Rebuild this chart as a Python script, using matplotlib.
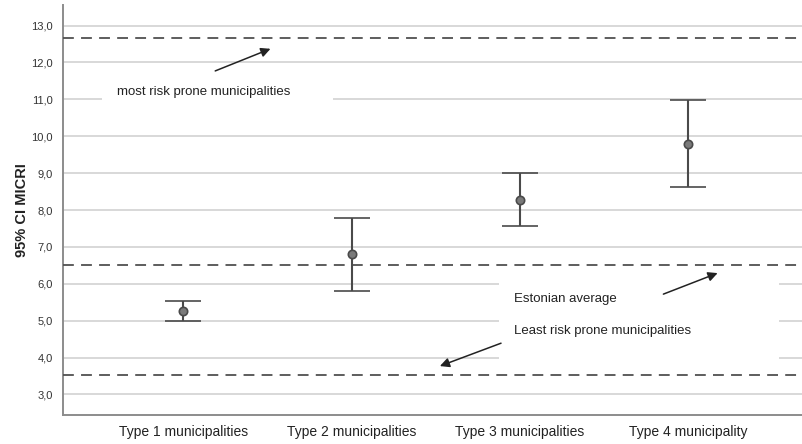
import matplotlib
matplotlib.use('agg')
import matplotlib.pyplot as plt
import matplotlib.patches as patches
import numpy as np

plt.rcParams['font.family'] = ['Liberation Sans', 'DejaVu Sans']

# values
categories = ['Type 1 municipalities', 'Type 2 municipalities',
              'Type 3 municipalities', 'Type 4 municipality']
means = [5.26, 6.80, 8.27, 9.79]
ci_low = [5.00, 5.81, 7.58, 8.62]
ci_high = [5.53, 7.78, 9.00, 10.97]

ref_lines = [12.66, 6.50, 3.54]  # most risk prone, Estonian average, least risk prone
yticks = np.arange(3, 14)

DARK = '#4a4a4a'
GRID = '#d6d6d6'


def main():
    fig = plt.figure(figsize=(8.03, 4.44), dpi=100, facecolor='white')
    ax = fig.add_axes([0.078, 0.065, 0.922, 0.924])

    x = np.arange(len(categories))
    m = np.array(means)
    yerr = [m - np.array(ci_low), np.array(ci_high) - m]

    ax.errorbar(x, m, yerr=yerr, fmt='o', color=DARK, ecolor=DARK,
                elinewidth=1.5, capsize=13, capthick=1.6,
                markersize=6, markerfacecolor='#7a7a7a',
                markeredgecolor=DARK, markeredgewidth=1.2, zorder=5)

    for v in ref_lines:
        ax.axhline(v, color='#505050', lw=1.3, ls=(0, (6, 4)), zorder=4)

    ax.set_xlim(-0.716, 3.68)
    ax.set_ylim(2.44, 13.56)
    ax.set_xticks(x)
    ax.set_xticklabels(categories, fontsize=10, color='#222222')
    ax.set_yticks(yticks)
    ax.set_yticklabels(['{:.1f}'.format(v).replace('.', ',') for v in yticks],
                       fontsize=8, color='#333333')
    ax.tick_params(length=0, pad=7)
    ax.tick_params(axis='x', pad=7)

    ax.set_axisbelow(True)
    ax.yaxis.grid(True, color=GRID, lw=1.3)
    ax.xaxis.grid(False)

    for s in ['top', 'right']:
        ax.spines[s].set_visible(False)
    for s in ['left', 'bottom']:
        ax.spines[s].set_color('#8c8c8c')
        ax.spines[s].set_linewidth(1.4)

    ax.set_ylabel('95% CI MICRI', fontsize=10.5, fontweight='bold',
                  color='#222222', labelpad=2)

    # white boxes behind the annotation text
    ax.add_patch(patches.Rectangle((-0.482, 10.58), 1.369, 1.08,
                                   facecolor='white', edgecolor='none', zorder=2))
    ax.add_patch(patches.Rectangle((1.875, 3.80), 1.665, 2.44,
                                   facecolor='white', edgecolor='none', zorder=2))

    txt = dict(fontsize=9.5, color='#222222', va='center', ha='left', zorder=6)
    ax.text(-0.393, 11.20, 'most risk prone municipalities', **txt)
    ax.text(1.964, 5.585, 'Estonian average', **txt)
    ax.text(1.964, 4.72, 'Least risk prone municipalities', **txt)

    arrow = dict(arrowstyle='-|>', color='#222222', lw=1.1, mutation_scale=14,
                 shrinkA=0, shrinkB=0)
    ax.annotate('', xy=(0.518, 12.37), xytext=(0.19, 11.77),
                arrowprops=arrow, zorder=6)
    ax.annotate('', xy=(3.173, 6.29), xytext=(2.851, 5.72),
                arrowprops=arrow, zorder=6)
    ax.annotate('', xy=(1.524, 3.77), xytext=(1.887, 4.39),
                arrowprops=arrow, zorder=6)

    fig.savefig('out.png', dpi=100, facecolor='white')


if __name__ == '__main__':
    main()
